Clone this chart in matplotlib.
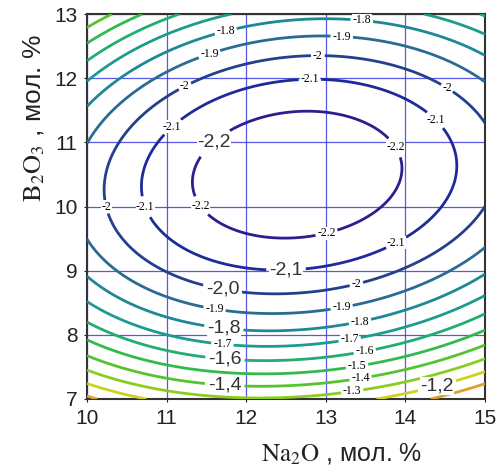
import numpy as np
import matplotlib.pyplot as plt

plt.rcParams['mathtext.fontset'] = 'stix'
plt.rcParams['font.family'] = 'Liberation Sans'

# contour levels and their colours
levels = [-2.2, -2.1, -2.0, -1.9, -1.8, -1.7, -1.6, -1.5, -1.4, -1.3, -1.2, -1.1]
line_colors = ['#2a1f8e', '#1d2a9a', '#233f8e', '#2a6b94', '#1f8896', '#1c9c8e',
               '#22ad72', '#33ba4c', '#55c42e', '#8ccc22', '#cdd220', '#e0a030']

# points (Na2O, B2O3), same order as levels
trace_x = [
    [11.42, 11.36, 12.23, 13.03, 13.97, 14.03, 13.96, 12.59, 12.0, 12.9],
    [10.75, 10.87, 11.23, 12.07, 12.58, 13.0, 13.9, 14.6, 14.66, 14.4, 13.7, 12.8, 12.05, 11.08],
    [10.26, 10.43, 11.0, 11.36, 12.0, 13.39, 14.94, 15.0, 14.53, 12.9, 11.24],
    [10.06, 11.6, 13.2, 14.18, 15.0, 10.1, 11.55, 13.2, 14.8],
    [10.1, 11.7, 13.43, 10.1, 11.75, 13.45, 15.0],
    [10.1, 11.7, 13.3, 10.1, 15.0],
    [10.13, 11.7, 13.49, 10.1],
    [10.16, 11.7, 13.39, 10.1],
    [10.2, 11.7, 13.43, 10.1],
    [10.16, 11.7, 13.33],
    [10.04, 10.6, 13.78, 14.27],
    [14.68, 14.93],
]
trace_y = [
    [10.0, 10.46, 9.45, 9.48, 10.26, 10.57, 10.99, 11.5, 11.3, 11.52],
    [10.0, 11.0, 9.38, 9.0, 9.02, 9.03, 9.4, 10.26, 10.62, 11.38, 11.86, 11.97, 11.85, 11.23],
    [10.0, 11.0, 9.0, 8.78, 8.63, 8.76, 10.0, 11.27, 11.86, 12.36, 11.85],
    [9.41, 8.39, 8.42, 8.86, 9.56, 11.12, 12.33, 12.64, 12.13],
    [8.82, 8.11, 8.2, 11.7, 12.7, 12.88, 12.33],
    [8.44, 7.85, 7.93, 12.05, 12.7],
    [8.11, 7.58, 7.74, 12.36],
    [7.85, 7.4, 7.53, 12.64],
    [7.58, 7.23, 7.38, 12.9],
    [7.38, 7.05, 7.14],
    [7.25, 7.0, 7.07, 7.19],
    [7.07, 7.15],
]
# minimum of the surface
min_x, min_y, min_val = 12.7, 10.5, -2.27

# label places: small serif labels and large comma labels
small_pos = [(11.75, 12.7), (13.45, 12.88), (13.43, 8.2),
             (11.55, 12.33), (13.2, 12.64), (11.6, 8.39), (13.2, 8.42),
             (11.24, 11.85), (12.9, 12.36), (14.53, 11.86), (10.26, 10.0), (13.39, 8.76),
             (11.08, 11.23), (12.8, 11.97), (14.4, 11.38), (10.75, 10.0), (13.9, 9.4),
             (11.42, 10.0), (13.96, 10.99), (13.03, 9.48),
             (11.7, 7.85), (13.3, 7.93), (13.49, 7.74), (13.39, 7.53),
             (13.43, 7.38), (13.33, 7.14)]
big_pos = [(11.7, 10.85), (12.5, 9.02), (11.7, 8.7), (11.72, 8.11),
           (11.73, 7.58), (11.73, 7.23), (14.4, 7.19)]


def design(x, y):
    u = x - 12.5
    v = y - 10.0
    return np.stack([np.ones_like(u), u, v, u * u, u * v, v * v,
                     u ** 3, u * u * v, u * v * v, v ** 3], axis=-1)


px = np.concatenate([np.array(a, float) for a in trace_x] + [np.array([min_x])])
py = np.concatenate([np.array(a, float) for a in trace_y] + [np.array([min_y])])
pz = np.concatenate([np.full(len(a), lv) for a, lv in zip(trace_x, levels)] + [np.array([min_val])])
coef, *_ = np.linalg.lstsq(design(px, py), pz, rcond=None)

gx = np.linspace(10, 15, 400)
gy = np.linspace(7, 13, 400)
X, Y = np.meshgrid(gx, gy)
Z = design(X, Y) @ coef

fig = plt.figure(figsize=(5, 4.75), dpi=100)
ax = fig.add_axes([0.174, 0.16, 0.796, 0.8105])

cs = ax.contour(X, Y, Z, levels=levels, colors=line_colors, linewidths=2.0, zorder=3)

with plt.rc_context({'font.family': 'Liberation Serif'}):
    ax.clabel(cs, manual=small_pos, fmt=lambda v: f"{round(v, 1):g}",
              fontsize=8.5, inline=True, inline_spacing=2, colors='black')
with plt.rc_context({'font.family': 'Liberation Sans'}):
    ax.clabel(cs, manual=big_pos, fmt=lambda v: f"{v:.1f}".replace('.', ','),
              fontsize=14, inline=True, inline_spacing=3, colors='#333333')
# labels in the original are written level, on a white patch
for t in cs.labelTexts:
    t.set_rotation(0)
    t.set_bbox(dict(facecolor='white', edgecolor='none', pad=0.3))
    t.set_zorder(4)

ax.set_xlim(10, 15)
ax.set_ylim(7, 13)
ax.set_xticks(range(10, 16))
ax.set_yticks(range(7, 14))
ax.set_axisbelow(True)
ax.grid(True, color='#3b3be0', linewidth=0.9, alpha=0.85)
ax.tick_params(labelsize=15, length=2, pad=5, colors='#222222')
for s in ax.spines.values():
    s.set_color('#333333')
    s.set_linewidth(1.5)

ax.set_xlabel(r'$\mathrm{Na_2O}$ , мол. %', fontsize=18, color='#222222')
ax.set_ylabel(r'$\mathrm{B_2O_3}$ , мол. %', fontsize=19, color='#222222')
ax.xaxis.set_label_coords(0.64, -0.11)
ax.yaxis.set_label_coords(-0.1, 0.73)

fig.savefig('out.png', dpi=100)
